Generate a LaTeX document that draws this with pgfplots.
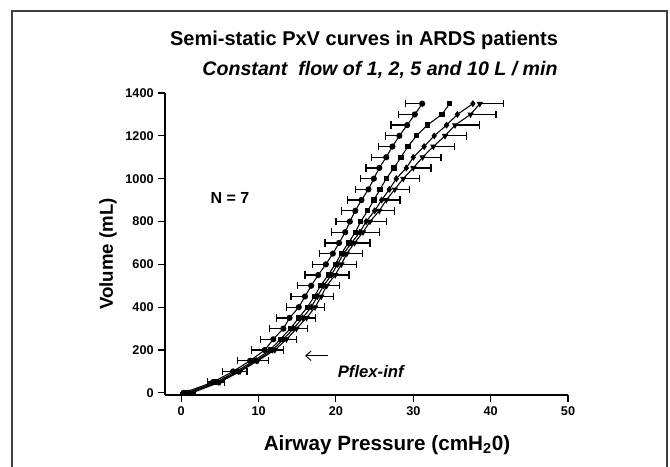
\documentclass[border=0pt]{standalone}
\usepackage{fontspec}
\setmainfont{Liberation Sans}
\usepackage{pgfplots}
\usepackage{pgfplotstable}
\pgfplotsset{compat=1.18}
\usetikzlibrary{arrows.meta}

% Curve A (leftmost, circles, left error bars)
\pgfplotstableread{
V P E
0 0.3 0
50 4.1 0.7
100 6.7 1.4
150 8.9 1.6
200 10.8 1.7
250 11.9 1.65
300 13.2 1.75
350 14.0 1.7
400 15.2 1.6
450 16.0 1.8
500 16.8 1.8
550 17.7 1.7
600 18.7 1.7
650 19.6 1.7
700 20.4 1.8
750 21.2 1.8
800 21.8 1.8
850 22.5 1.8
900 23.3 1.8
950 24.2 1.7
1000 24.9 1.7
1050 25.6 1.7
1100 26.5 1.9
1150 27.3 1.8
1200 28.2 1.8
1250 29.2 2.1
1300 30.2 2.1
1350 31.15 2.2
}\curveA

% Curve B (squares)
\pgfplotstableread{
V P
0 0.7
50 4.5
100 7.1
150 9.4
200 11.5
250 12.8
300 14.1
350 15.2
400 16.3
450 17.2
500 18.0
550 19.0
600 19.9
650 20.7
700 21.6
750 22.5
800 23.2
850 24.1
900 24.9
950 25.7
1000 26.5
1050 27.5
1100 28.4
1150 29.3
1200 30.4
1250 31.8
1300 33.7
1350 34.7
}\curveB

% Curve C (diamonds)
\pgfplotstableread{
V P
0 1.0
50 4.8
100 7.4
150 9.7
200 11.8
250 13.2
300 14.5
350 15.7
400 16.8
450 17.6
500 18.4
550 19.4
600 20.2
650 21.0
700 22.0
750 23.1
800 23.9
850 25.0
900 25.9
950 26.9
1000 27.8
1050 29.1
1100 30.0
1150 31.4
1200 32.7
1250 34.3
1300 35.7
1350 37.7
}\curveC

% Curve D (rightmost, triangles, right error bars)
\pgfplotstableread{
V P E
0 1.4 0
50 5.0 0.6
100 7.6 0.9
150 9.9 1.4
200 12.1 1.1
250 13.6 1.3
300 14.9 1.4
350 16.2 1.2
400 17.3 1.2
450 18.1 1.6
500 18.8 1.7
550 19.9 1.8
600 20.7 2.0
650 21.4 2.0
700 22.4 2.0
750 23.5 2.1
800 24.4 2.1
850 25.6 2.0
900 26.5 1.8
950 27.6 1.9
1000 28.7 2.1
1050 30.0 2.3
1100 31.2 2.4
1150 32.6 2.7
1200 34.1 2.8
1250 35.4 3.2
1300 37.4 3.3
1350 38.6 3.1
}\curveD

\begin{document}
\begin{tikzpicture}
\begin{axis}[
  scale only axis, width=302.25pt, height=226.5pt,
  xmin=-2.1, xmax=50, ymin=-10, ymax=1400,
  axis x line*=bottom, axis y line*=left,
  axis line style={line width=0.9pt, -},
  xtick={0,10,...,50}, ytick={0,200,...,1400},
  tick align=outside, major tick length=5pt,
  tick style={line width=0.8pt, black},
  ticklabel style={font=\bfseries\fontsize{9.5}{11}\selectfont},
  /pgf/number format/assume math mode=true,
  /pgf/number format/set thousands separator={},
  clip=false,
]
\addplot[black, line width=0.8pt, mark=*, mark size=1.9pt,
  error bars/.cd, x dir=minus, x explicit, error mark=|,
  error bar style={line width=1pt},
  error mark options={black, mark size=2.8pt, line width=1pt}]
  table[x=P, y=V, x error=E] {\curveA};
\addplot[black, line width=0.8pt, mark=square*, mark size=1.6pt] table[x=P, y=V] {\curveB};
\addplot[black, line width=0.8pt, mark=diamond*, mark size=2pt] table[x=P, y=V] {\curveC};
\addplot[black, line width=0.8pt, mark=triangle*, mark size=2pt, mark options={rotate=180},
  error bars/.cd, x dir=plus, x explicit, error mark=|,
  error bar style={line width=1pt},
  error mark options={black, mark size=2.8pt, line width=1pt}]
  table[x=P, y=V, x error=E] {\curveD};

\node[font=\bfseries\fontsize{12}{14}\selectfont] at (axis cs:6.3,910) {N = 7};
\node[font=\bfseries\itshape\fontsize{12.5}{14}\selectfont] at (axis cs:24.5,98) {Pflex-inf};
\draw[line width=0.7pt, -{Straight Barb[length=4pt,width=7pt]}] (axis cs:19.0,173) -- (axis cs:16.0,173);

% page corners and decorations (in relative axis coordinates)
\coordinate (BL) at (rel axis cs:-0.4094,-0.2351);
\coordinate (TR) at (rel axis cs:1.2531,1.3079);
\draw[line width=0.9pt, black!75] (rel axis cs:-0.3797,-0.3) -- (rel axis cs:-0.3797,1.2715) -- (rel axis cs:1.2457,1.2715) -- (rel axis cs:1.2457,-0.3);
\node[font=\bfseries\fontsize{15}{18}\selectfont] at (rel axis cs:0.4938,1.1732) {Semi-static PxV curves in ARDS patients};
\node[font=\bfseries\itshape\fontsize{14.7}{18}\selectfont] at (rel axis cs:0.5335,1.0762) {Constant\ \ flow of 1, 2, 5 and 10 L / min};
\node[font=\bfseries\fontsize{15.5}{18}\selectfont] at (rel axis cs:0.5509,-0.1656) {Airway Pressure (cmH\textsubscript{2}0)};
\node[font=\bfseries\fontsize{14}{16}\selectfont, rotate=90] at (rel axis cs:-0.1414,0.4669) {Volume (mL)};
\end{axis}
\pgfresetboundingbox
\useasboundingbox (BL) rectangle (TR);
\end{tikzpicture}
\end{document}
